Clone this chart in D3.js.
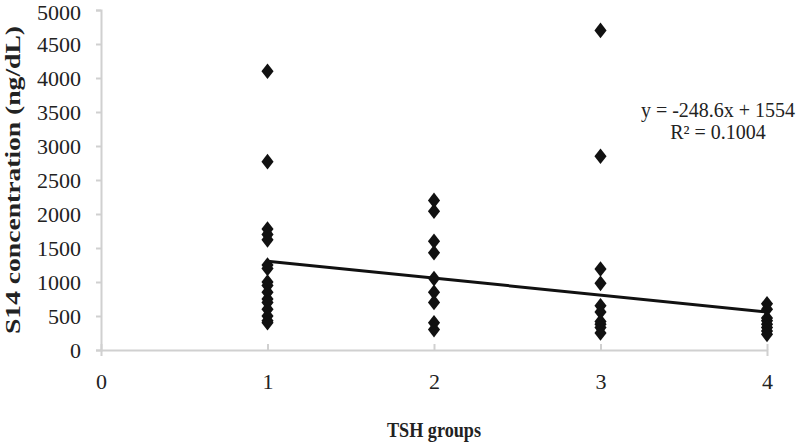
<!DOCTYPE html>
<html><head><meta charset="utf-8">
<script src="https://cdn.jsdelivr.net/npm/d3@7"></script>
<style>body{margin:0;background:#fff}svg{display:block}</style>
</head><body><div id="chart"></div>
<script>
const group1 = [4100, 2770, 1780, 1700, 1620, 1250, 1200, 1000, 950, 850, 750, 700, 600, 500, 430, 400];
const group2 = [2200, 2040, 1600, 1430, 1050, 850, 700, 400, 300];
const group3 = [4700, 2850, 1190, 980, 650, 560, 420, 380, 330, 250];
const group4 = [680, 600, 470, 430, 380, 330, 280, 230];
const groups = [1, 2, 3, 4];
const xTicks = [0, 1, 2, 3, 4];
const yTicks = [0, 500, 1000, 1500, 2000, 2500, 3000, 3500, 4000, 4500, 5000];
const slope = -248.6, intercept = 1554;
const eqLabel = "y = -248.6x + 1554";
const r2Label = "R² = 0.1004";

const W = 800, H = 443;
const mLeft = 101, mRight = 767, mTop = 10, mBottom = 350;
const svg = d3.select("#chart").append("svg").attr("width", W).attr("height", H)
  .style("font-family", "'Liberation Serif','Times New Roman',serif");
const x = d3.scaleLinear().domain([0, 4]).range([mLeft, mRight]);
const y = d3.scaleLinear().domain([0, 5000]).range([mBottom, mTop]);

const axisColor = "#d0d0d0";
const yAxis = svg.append("g").attr("transform", `translate(${mLeft},0)`)
  .call(d3.axisLeft(y).tickValues(yTicks).tickSize(5).tickPadding(15).tickFormat(d3.format("d")));
const xAxis = svg.append("g").attr("transform", `translate(0,${mBottom})`)
  .call(d3.axisBottom(x).tickValues(xTicks).tickSize(6).tickPadding(17).tickFormat(d3.format("d")));
[yAxis, xAxis].forEach(a => {
  a.select(".domain").attr("stroke", axisColor).attr("stroke-width", 2);
  a.selectAll(".tick line").attr("stroke", axisColor).attr("stroke-width", 2);
  a.selectAll("text").attr("fill", "#222").style("font-size", "22px").style("font-family", "'Liberation Serif',serif");
});
xAxis.selectAll(".tick line").attr("y1", -6).attr("y2", 0);
yAxis.selectAll(".tick").filter(d => d === 5000).select("text").attr("dy", "0.42em");

const all = [group1, group2, group3, group4];
const pts = [];
all.forEach((arr, i) => arr.forEach(v => pts.push({g: groups[i], v})));
const diamond = d3.symbol().type(d3.symbolDiamond).size(70);
svg.append("g").selectAll("path").data(pts).join("path")
  .attr("d", diamond)
  .attr("transform", d => `translate(${x(d.g)},${y(d.v)}) scale(1.35,1)`)
  .attr("fill", "#111");

svg.append("line")
  .attr("x1", x(1)).attr("y1", y(slope * 1 + intercept))
  .attr("x2", x(4)).attr("y2", y(slope * 4 + intercept))
  .attr("stroke", "#111").attr("stroke-width", 3);

svg.append("text").attr("x", 718).attr("y", 117).attr("text-anchor", "middle")
  .style("font-size", "20px").attr("fill", "#222").text(eqLabel);
svg.append("text").attr("x", 718).attr("y", 139).attr("text-anchor", "middle")
  .style("font-size", "20px").attr("fill", "#222").text(r2Label);

svg.append("text").attr("x", 434).attr("y", 437).attr("text-anchor", "middle")
  .style("font-size", "21px").style("font-weight", "bold")
  .attr("textLength", 94).attr("lengthAdjust", "spacingAndGlyphs")
  .attr("fill", "#222").text("TSH groups");
svg.append("text").attr("transform", `translate(20,${(mTop + mBottom) / 2}) rotate(-90)`)
  .attr("text-anchor", "middle").style("font-size", "21px").style("font-weight", "bold")
  .attr("textLength", 308).attr("lengthAdjust", "spacingAndGlyphs")
  .attr("fill", "#222").text("S14 concentration (ng/dL)");
</script></body></html>
